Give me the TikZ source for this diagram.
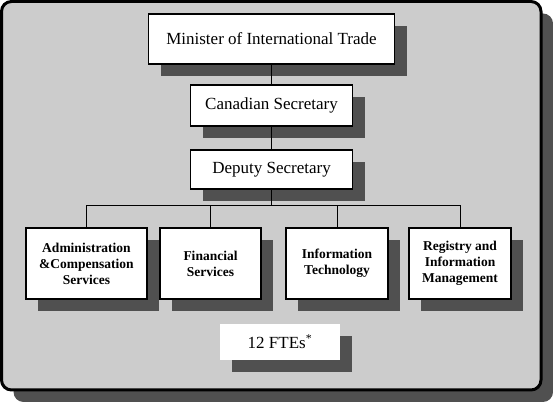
\documentclass[tikz,border=0pt]{standalone}
\usepackage{fontspec}
\setmainfont{Liberation Serif}
\usetikzlibrary{shadows}
\definecolor{bggray}{HTML}{CCCCCC}
\definecolor{shadowc}{HTML}{505050}
\tikzset{
  myshadow/.style={drop shadow={shadow xshift=12pt,shadow yshift=-12pt,fill=shadowc,opacity=1}},
  topbox/.style={draw=black,line width=1.8pt,fill=white,inner sep=0pt,myshadow,
    font=\fontsize{17}{20}\selectfont},
  unitbox/.style={draw=black,line width=1.8pt,fill=white,inner sep=0pt,myshadow,
    minimum height=71pt,align=center,font=\fontsize{13.5}{16}\selectfont\bfseries},
  link/.style={draw=black,line width=0.8pt},
}
\begin{document}
\begin{tikzpicture}[x=1pt,y=1pt]
\useasboundingbox (0,0) rectangle (553,403);
\node[draw=black,line width=3pt,fill=bggray,rounded corners=10pt,myshadow,
  minimum width=539.5pt,minimum height=388.5pt,inner sep=0pt] (frame) at (271.25,207.25) {};
\node[topbox,minimum width=246pt,minimum height=50pt] (min) at (271.5,364) {Minister of International Trade};
\node[topbox,minimum width=162pt,minimum height=41pt] (can) at (271.5,297.5) {Canadian Secretary};
\node[topbox,minimum width=162pt,minimum height=39pt] (dep) at (271.5,233.5) {Deputy Secretary};
\node[unitbox,minimum width=121pt] (adm) at (86.5,139.5) {Administration\\\&Compensation\\Services};
\node[unitbox,minimum width=101pt] (fin) at (210.5,139.5) {Financial\\Services};
\node[unitbox,minimum width=102pt] (it) at (337,139.5) {Information\\Technology};
\node[unitbox,minimum width=102pt] (reg) at (460,139.5) {Registry and\\Information\\Management};
\node[fill=white,inner sep=0pt,myshadow,minimum width=120pt,minimum height=36pt,
  font=\fontsize{17}{20}\selectfont] (fte) at (280,61) {12 FTEs\textsuperscript{*}};
\coordinate (bus) at (0,198);
\draw[link] (min.south) -- (can.north);
\draw[link] (can.south) -- (dep.north);
\draw[link] (dep.south) -- (dep.south |- bus);
\draw[link] (adm.north |- bus) -- (reg.north |- bus);
\draw[link] (adm.north) -- (adm.north |- bus);
\draw[link] (fin.north) -- (fin.north |- bus);
\draw[link] (it.north) -- (it.north |- bus);
\draw[link] (reg.north) -- (reg.north |- bus);
\end{tikzpicture}
\end{document}
